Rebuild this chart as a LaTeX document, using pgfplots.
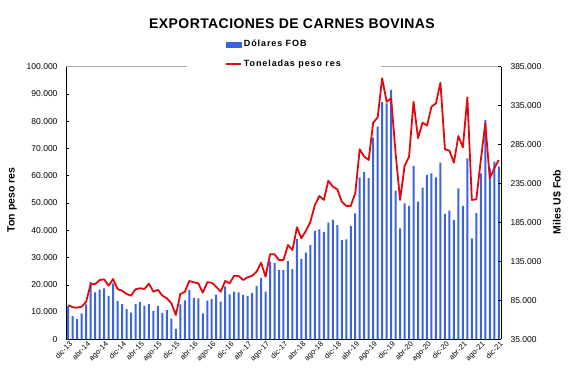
\documentclass[border=0pt]{standalone}
\usepackage{pgfplots}
\pgfplotsset{compat=1.18}
\usepackage{pgfplotstable}
\usepackage{fontspec}
\setmainfont{Liberation Sans}
\newfontfamily\legfont[LetterSpace=10]{Liberation Sans}
\newfontfamily\titfont[LetterSpace=3]{Liberation Sans}
\definecolor{barblue}{RGB}{58,100,224}
\definecolor{linered}{RGB}{226,8,14}

\pgfplotstableread{
i fob ton
0 12200 79000
1 8500 76100
2 7400 75600
3 9500 76900
4 12800 83300
5 21000 105600
6 17200 106000
7 18200 111000
8 18700 112000
9 15900 103800
10 20500 112400
11 14000 99600
12 12900 97400
13 11100 93200
14 9800 91000
15 12900 99200
16 13600 100500
17 12300 99600
18 12900 106400
19 10400 96100
20 12200 98500
21 9700 91000
22 10700 87600
23 7600 81200
24 3800 66200
25 12800 93200
26 14300 96100
27 18000 109900
28 15200 108200
29 15000 106900
30 9500 94800
31 14200 108200
32 14700 107700
33 16400 102500
34 13800 96100
35 19400 109900
36 16500 106900
37 17500 116700
38 17200 116300
39 16300 111100
40 15900 114600
41 17000 116500
42 19600 121800
43 22400 133400
44 17500 115400
45 28500 144100
46 27900 144100
47 25400 136800
48 25400 136800
49 28700 156100
50 25700 149700
51 36800 178800
52 29500 164700
53 31800 174400
54 34600 186000
55 39800 207400
56 40300 219000
57 39400 213900
58 42800 238600
59 43800 231000
60 41900 227600
61 36400 211700
62 36700 206300
63 41600 206300
64 46200 222500
65 59400 279000
66 61300 269500
67 59100 265200
68 74000 313100
69 78000 320000
70 87000 370100
71 86500 340000
72 91500 344400
73 54500 273800
74 40700 213900
75 49900 257500
76 48900 269500
77 63600 340000
78 50500 293100
79 55600 313100
80 60300 309500
81 60900 333700
82 59400 338000
83 64800 364500
84 46000 279000
85 47200 277200
86 43800 261800
87 55400 296000
88 48900 281500
89 66400 345700
90 37000 213900
91 46400 214800
92 60900 265200
93 80400 312300
94 62700 241700
95 65200 254600
96 63300 265200
}\datatable

\begin{document}
\begin{tikzpicture}[x=1pt,y=1pt]
\useasboundingbox (0,0) rectangle (573,383);
\begin{axis}[
  at={(66pt,43.7pt)}, anchor=south west,
  scale only axis, width=435pt, height=272.6pt,
  xmin=-0.5, xmax=96.5, ymin=0, ymax=100000,
  enlargelimits=false,
  axis x line*=bottom, axis y line*=left,
  x axis line style={-}, y axis line style={-},
  ybar, bar width=2pt,
  xtick={0,4,...,96}, minor xtick={0,1,...,96},
  xticklabels={dic-13,abr-14,ago-14,dic-14,abr-15,ago-15,dic-15,abr-16,ago-16,dic-16,abr-17,ago-17,dic-17,abr-18,ago-18,dic-18,abr-19,ago-19,dic-19,abr-20,ago-20,dic-20,abr-21,ago-21,dic-21},
  xticklabel style={rotate=45, anchor=north east, font=\fontsize{7.5}{8}\selectfont, inner sep=0.5pt, yshift=-1pt},
  ytick={0,10000,20000,30000,40000,50000,60000,70000,80000,90000,100000},
  yticklabel style={font=\fontsize{8.5}{10}\selectfont, xshift=-5pt},
  scaled y ticks=false,
  /pgf/number format/.cd, fixed, 1000 sep={.}, assume math mode=true, /pgfplots/.cd,
  tick align=inside, major tick length=3pt, minor tick length=2.5pt,
  axis line style={black, line width=0.6pt},
  tick style={black, line width=0.5pt},
]
\draw[gray!70, line width=0.7pt] (rel axis cs:0,1) -- (rel axis cs:1,1);
\addplot[fill=barblue, draw=none] table[x=i,y=fob]{\datatable};
\end{axis}
\begin{axis}[
  at={(66pt,43.7pt)}, anchor=south west,
  scale only axis, width=435pt, height=272.6pt,
  xmin=-0.5, xmax=96.5, ymin=35000, ymax=385000,
  enlargelimits=false,
  axis x line=none, axis y line*=right,
  y axis line style={-},
  ytick={35000,85000,135000,185000,235000,285000,335000,385000},
  yticklabel style={font=\fontsize{8.5}{10}\selectfont, xshift=6pt},
  scaled y ticks=false,
  /pgf/number format/.cd, fixed, 1000 sep={.}, assume math mode=true, /pgfplots/.cd,
  tick align=inside, major tick length=3pt,
  axis line style={black, line width=0.6pt},
  tick style={black, line width=0.5pt},
  legend style={at={(0.278,1.1126)}, anchor=north west, fill=white, draw=none,
    inner xsep=38pt, inner ysep=2pt, row sep=8pt,
    font=\legfont\bfseries\fontsize{9}{10}\selectfont},
  legend cell align=left,
]
\addlegendimage{legend image code/.code={\fill[barblue] (0pt,-2.5pt) rectangle (15pt,2.5pt);}}
\addlegendentry{Dólares FOB}
\addplot[linered, line width=1.8pt, line join=round, mark=none,
  legend image code/.code={\draw[linered, line width=1.8pt] (0pt,0pt) -- (15pt,0pt);}]
  table[x=i,y=ton]{\datatable};
\addlegendentry{Toneladas peso res}
\end{axis}
\node[font=\titfont\bfseries\fontsize{14}{16}\selectfont] at (292,359) {EXPORTACIONES DE CARNES BOVINAS};
\node[rotate=90, font=\bfseries\fontsize{10.5}{12}\selectfont] at (12,183) {Ton peso res};
\node[rotate=90, font=\bfseries\fontsize{10.5}{12}\selectfont] at (557,181) {Miles U\$ Fob};
\end{tikzpicture}
\end{document}
